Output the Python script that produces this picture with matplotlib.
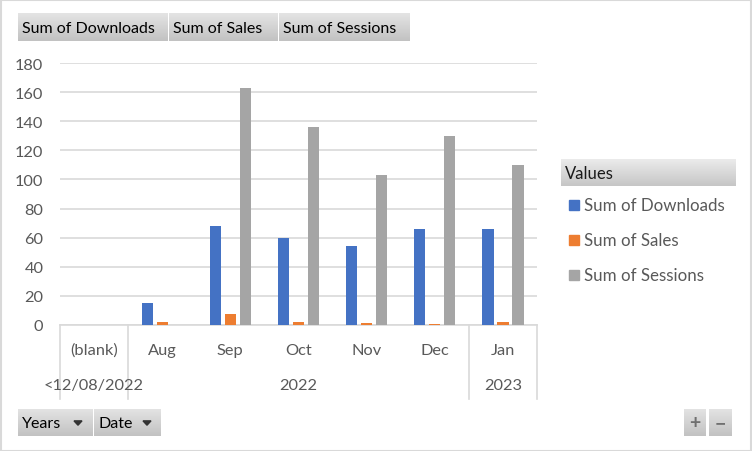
import numpy as np
import matplotlib
matplotlib.use("Agg")
import matplotlib.pyplot as plt
from matplotlib.patches import Rectangle, Polygon

plt.rcParams['font.family'] = ['Lato', 'DejaVu Sans']

# data
categories = ["(blank)", "Aug", "Sep", "Oct", "Nov", "Dec", "Jan"]
downloads = [np.nan, 15, 68, 60, 54, 66, 66]
sales = [np.nan, 2.3, 7.8, 2.3, 1.6, 0.9, 2.3]
sessions = [np.nan, 0, 163, 136, 103, 130, 110]
series_names = ["Sum of Downloads", "Sum of Sales", "Sum of Sessions"]
series_colors = ["#4472C4", "#ED7D31", "#A5A5A5"]
year_groups = [("<12/08/2022", 0, 0), ("2022", 1, 5), ("2023", 6, 6)]
yticks = list(range(0, 181, 20))

W, H = 752, 452
TXT = "#595959"
FS = 11.8


def box(x0, y0, x1, y1):
    # pixel box (top-left origin) -> figure fraction rect
    return [x0 / W, 1 - y1 / H, (x1 - x0) / W, (y1 - y0) / H]


def button(fig, x0, y0, x1, y1, label=None, top="#e4e4e4", bottom="#c2c2c2",
           arrow=False, size=11.5, color="black", weight="normal", ha="left"):
    bax = fig.add_axes(box(x0, y0, x1, y1))
    c0 = np.array(matplotlib.colors.to_rgb(top))
    c1 = np.array(matplotlib.colors.to_rgb(bottom))
    t = np.linspace(0, 1, 32)[:, None, None]
    grad = c0 * (1 - t) + c1 * t
    bax.imshow(grad, aspect="auto", extent=[0, 1, 0, 1])
    bax.set_xlim(0, 1)
    bax.set_ylim(0, 1)
    bax.axis("off")
    if label is not None:
        if ha == "left":
            bax.text(4 / (x1 - x0), 0.48, label, ha="left", va="center",
                     fontsize=size, color=color, fontweight=weight)
        else:
            bax.text(0.5, 0.5, label, ha="center", va="center",
                     fontsize=size, color=color, fontweight=weight)
    if arrow:
        w = x1 - x0
        cx = (w - 14) / w
        dx = 4 / w
        bax.add_patch(Polygon([[cx - dx, 0.56], [cx + dx, 0.56], [cx, 0.40]],
                              closed=True, color="#333333"))
    return bax


fig = plt.figure(figsize=(W / 100, H / 100), dpi=100)
fig.patch.set_facecolor("white")

# plot area
ax = fig.add_axes(box(60, 64, 537, 326))
x = np.arange(len(categories))
bw = 0.165
off = 0.22
for i, (vals, c) in enumerate(zip([downloads, sales, sessions], series_colors)):
    ax.bar(x + (i - 1) * off, vals, width=bw, color=c, zorder=3)

ax.set_xlim(-0.5, len(categories) - 0.5)
ax.set_ylim(0, 180)
ax.set_yticks(yticks)
ax.yaxis.grid(True, color="#d9d9d9", linewidth=1.2, zorder=0)
ax.set_axisbelow(True)
for s in ax.spines.values():
    s.set_visible(False)
ax.tick_params(axis="y", length=0, pad=12, labelsize=FS, labelcolor=TXT)
ax.set_xticks([])

# multi-level category axis
tr = ax.get_xaxis_transform()
ph = 262.0
ax.plot([-0.5, len(categories) - 0.5], [0, 0], color="#d9d9d9", lw=1.2,
        transform=tr, clip_on=False)
for b in [-0.5, 0.5, 5.5, 6.5]:
    ax.plot([b, b], [0, -74 / ph], color="#d9d9d9", lw=1.2, transform=tr,
            clip_on=False)
for i, lab in enumerate(categories):
    ax.text(i, -25 / ph, lab, ha="center", va="center", fontsize=FS,
            color=TXT, transform=tr)
for lab, a, b in year_groups:
    ax.text((a + b) / 2, -60 / ph, lab, ha="center", va="center",
            fontsize=FS, color=TXT, transform=tr)

# legend
button(fig, 561, 160, 736, 187, "Values", top="#ebebeb", bottom="#c6c6c6",
       size=12, color="#1a1a1a")
for i, (name, c) in enumerate(zip(series_names, series_colors)):
    yc = 206 + i * 35
    fig.patches.append(Rectangle((569 / W, 1 - (yc + 5) / H), 10 / W, 10 / H,
                                 transform=fig.transFigure, color=c))
    fig.text(584 / W, 1 - yc / H, name, ha="left", va="center",
             fontsize=12.2, color=TXT)

# field buttons
button(fig, 18, 14, 168, 42, "Sum of Downloads")
button(fig, 169, 14, 278, 42, "Sum of Sales")
button(fig, 279, 14, 410, 42, "Sum of Sessions")
button(fig, 18, 410, 92, 437, "Years", arrow=True)
button(fig, 94, 410, 161, 437, "Date", arrow=True)
button(fig, 684, 410, 706, 437, "+", size=14, color="#707070",
       weight="bold", ha="center")
button(fig, 709, 410, 732, 437, "\u2212", size=14, color="#707070",
       weight="bold", ha="center")

# chart border
fig.patches.append(Rectangle((0.5 / W, 0.5 / H), 1 - 1.5 / W, 1 - 1.5 / H,
                             transform=fig.transFigure, fill=False,
                             edgecolor="#d9d9d9", lw=1.5))

fig.savefig("out.png", dpi=100)
